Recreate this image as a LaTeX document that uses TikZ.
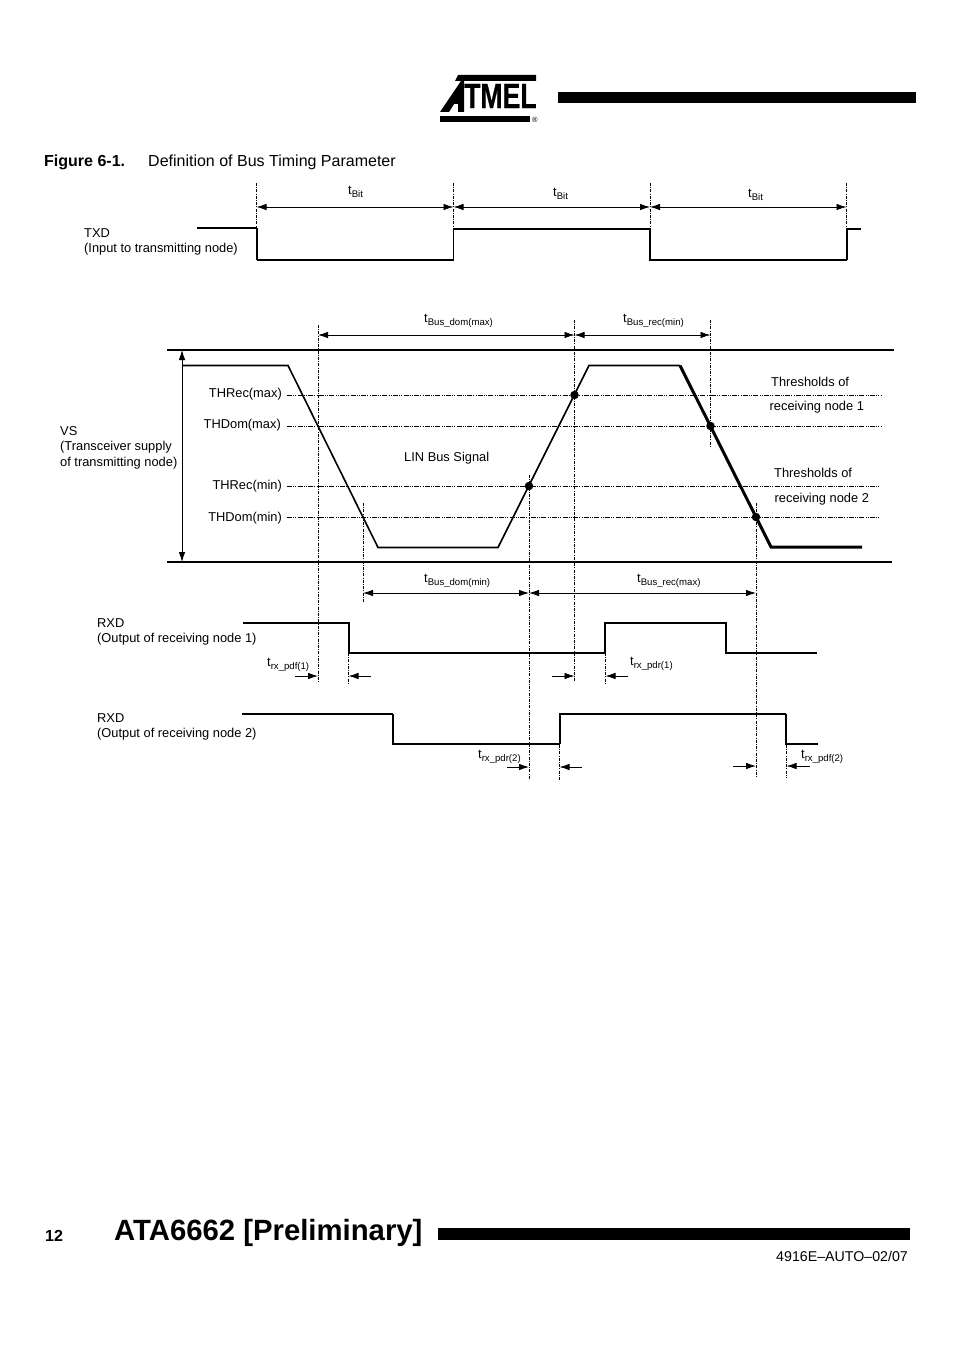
\documentclass[tikz,border=0pt]{standalone}
\usepackage{fontspec}
\setmainfont{Liberation Sans}
\usetikzlibrary{arrows.meta}
\newcommand{\tsub}[2]{#1\raisebox{-0.45ex}{\fontsize{9.6}{10}\selectfont #2}}
\tikzset{
  lbl/.style={anchor=west, inner sep=0pt, yshift=-1.5pt, font=\fontsize{12.85}{15.5}\selectfont, align=left},
  wave/.style={line width=1.6pt, line join=miter},
  thin wave/.style={line width=1.1pt, line join=miter},
  rail/.style={line width=1.8pt},
  guide/.style={line width=0.7pt, dash pattern=on 3pt off 1.2pt on 1pt off 1.2pt},
  thres/.style={line width=0.7pt, dash pattern=on 5pt off 1.2pt on 1pt off 1.2pt on 1pt off 1.2pt},
  dim/.style={line width=0.8pt, >={Latex[length=10pt,width=6.5pt]}},
  dot/.style={circle, fill=black, inner sep=0pt, minimum size=8.5pt}
}
\begin{document}
\begin{tikzpicture}
    [x=1pt, y=-1pt]

    \useasboundingbox [fill=white] (0,0) rectangle (954,1351);

    % logo and page bars
    \fill (458,75) -- (536,75) -- (536,81) -- (455,81) -- cycle;
    \fill (440,116) -- (530,116) -- (530,122) -- (440,122) -- cycle;
    \fill (440,112) -- (461,81) -- (464,81) -- (464,112) -- (458,112) -- (458,104) -- (454,104) -- (449,112) -- cycle;
    \node [inner sep=0pt, anchor=west, font=\fontsize{35}{35}\selectfont\bfseries] at (464,96) (logo) {\addfontfeature{FakeStretch=0.76,FakeBold=0.6}TMEL};
    \node [inner sep=0pt, font=\fontsize{7.5}{7.5}\selectfont] at (535,120) (reg) {®};
    \fill (558,92) rectangle (916,103);
    \fill (438,1228) rectangle (910,1240);

    \node [lbl, font=\fontsize{16}{18}\selectfont\bfseries] at (44,160.5) (figno) {Figure 6-1.};
    \node [lbl, font=\fontsize{16}{18}\selectfont] at (148,160.5) (figtitle) {Definition of Bus Timing Parameter};
    \node [lbl, font=\fontsize{16}{18}\selectfont\bfseries] at (45,1234) (pageno) {12};
    \node [lbl, font=\fontsize{29.3}{31}\selectfont\bfseries] at (114,1231) (doctitle) {ATA6662 [Preliminary]};
    \node [lbl, anchor=east, font=\fontsize{14.2}{16}\selectfont] at (908,1255) (docno) {4916E–AUTO–02/07};

    % TXD
    \node [lbl] at (84,240.5) (txd) {TXD\\(Input to transmitting node)};
    \draw [thin wave] (197,228) -- (257,228);
    \draw [line width=2pt] (257,228) -- (257,260);
    \draw [thin wave] (257,260) -- (453.5,260) -- (453.5,229);
    \draw [wave, line width=2pt] (453.5,229) -- (650,229);
    \draw [wave] (650,229) -- (650,260) -- (847,260);
    \draw [thin wave] (847,260) -- (847,229) -- (861,229);

    \coordinate (g1a) at (256.5,183);
    \coordinate (g1b) at (256.5,228);
    \coordinate (g2a) at (453.5,183);
    \coordinate (g2b) at (453.5,229);
    \coordinate (g3a) at (650,183);
    \coordinate (g3b) at (650,229);
    \coordinate (g4a) at (846.5,183);
    \coordinate (g4b) at (846.5,229);
    \draw [guide] (g1a) -- (g1b);
    \draw [guide] (g2a) -- (g2b);
    \draw [guide] (g3a) -- (g3b);
    \draw [guide] (g4a) -- (g4b);

    \coordinate (b1) at (256.5,207);
    \coordinate (b2) at (453.5,207);
    \coordinate (b3) at (650,207);
    \coordinate (b4) at (846.5,207);
    \draw [dim, <->] (b1) -- (b2);
    \draw [dim, <->] (b2) -- (b3);
    \draw [dim, <->] (b3) -- (b4);
    \node [lbl] at (348,190) (tbit1) {\tsub{t}{Bit}};
    \node [lbl] at (553,192) (tbit2) {\tsub{t}{Bit}};
    \node [lbl] at (748,193) (tbit3) {\tsub{t}{Bit}};

    % bus signal
    \coordinate (topl) at (167,350);
    \coordinate (topr) at (894,350);
    \coordinate (botl) at (167,562);
    \coordinate (botr) at (892,562);
    \draw [rail] (topl) -- (topr);
    \draw [rail] (botl) -- (botr);

    \coordinate (vsa) at (182,350);
    \coordinate (vsb) at (182,562);
    \draw [dim, <->] (vsa) -- (vsb);
    \node [lbl] at (60,446) (vs) {VS\\(Transceiver supply\\of transmitting node)};

    \coordinate (r1a) at (287,395);
    \coordinate (r1b) at (881,395);
    \coordinate (d1a) at (287,426);
    \coordinate (d1b) at (882,426);
    \coordinate (r2a) at (287,486);
    \coordinate (r2b) at (880,486);
    \coordinate (d2a) at (287,517);
    \coordinate (d2b) at (880,517);
    \draw [thres] (r1a) -- (r1b);
    \draw [thres] (d1a) -- (d1b);
    \draw [thres] (r2a) -- (r2b);
    \draw [thres] (d2a) -- (d2b);

    \draw [wave] (182,365.5) -- (288,365.5) -- (378,547.5) -- (498,547.5) -- (589,365.5) -- (680,365.5);
    \draw [wave, line width=3pt] (680,365.5) -- (771,547) -- (862,547);

    \node [lbl, anchor=east] at (282,393) (thrmax) {THRec(max)};
    \node [lbl, anchor=east] at (281,424) (thdmax) {THDom(max)};
    \node [lbl, anchor=east] at (282,485) (thrmin) {THRec(min)};
    \node [lbl, anchor=east] at (282,516.5) (thdmin) {THDom(min)};
    \node [lbl] at (404,456.5) (lin) {LIN Bus Signal};
    \node [lbl] at (771,380) (th1a) {Thresholds of};
    \node [lbl] at (769.5,405.5) (th1b) {receiving node 1};
    \node [lbl] at (774,471) (th2a) {Thresholds of};
    \node [lbl] at (774.5,497.5) (th2b) {receiving node 2};

    \node [dot] at (574.5,395) (p1) {};
    \node [dot] at (710.5,426) (p2) {};
    \node [dot] at (529,486) (p3) {};
    \node [dot] at (756,517) (p4) {};

    % time marks
    \coordinate (v1a) at (318,325);
    \coordinate (v1b) at (318,682);
    \coordinate (v2a) at (574.5,320);
    \coordinate (v2b) at (574.5,682);
    \coordinate (v3a) at (710.5,320);
    \coordinate (v3b) at (710.5,447);
    \coordinate (v4a) at (363,503);
    \coordinate (v4b) at (363,603);
    \coordinate (v5a) at (529,475);
    \coordinate (v5b) at (529,780);
    \coordinate (v6a) at (756,503);
    \coordinate (v6b) at (756,778);
    \coordinate (v7a) at (348.5,653);
    \coordinate (v7b) at (348.5,683);
    \coordinate (v8a) at (605.5,653);
    \coordinate (v8b) at (605.5,683);
    \coordinate (v9a) at (559.5,745);
    \coordinate (v9b) at (559.5,780);
    \coordinate (v10a) at (786.5,745);
    \coordinate (v10b) at (786.5,778);
    \draw [guide] (v1a) -- (v1b);
    \draw [guide] (v2a) -- (v2b);
    \draw [guide] (v3a) -- (v3b);
    \draw [guide] (v4a) -- (v4b);
    \draw [guide] (v5a) -- (v5b);
    \draw [guide] (v6a) -- (v6b);
    \draw [guide] (v7a) -- (v7b);
    \draw [guide] (v8a) -- (v8b);
    \draw [guide] (v9a) -- (v9b);
    \draw [guide] (v10a) -- (v10b);

    \coordinate (m1) at (318,335);
    \coordinate (m2) at (574.5,335);
    \coordinate (m3) at (710.5,335);
    \coordinate (m4) at (363,593);
    \coordinate (m5) at (529,593);
    \coordinate (m6) at (756,593);
    \draw [dim, <->] (m1) -- (m2);
    \draw [dim, <->] (m2) -- (m3);
    \draw [dim, <->] (m4) -- (m5);
    \draw [dim, <->] (m5) -- (m6);
    \node [lbl] at (424,319.5) (tdommax) {\tsub{t}{Bus\_dom(max)}};
    \node [lbl] at (623,319.5) (trecmin) {\tsub{t}{Bus\_rec(min)}};
    \node [lbl] at (424,579) (tdommin) {\tsub{t}{Bus\_dom(min)}};
    \node [lbl] at (637,579) (trecmax) {\tsub{t}{Bus\_rec(max)}};

    % RXD
    \node [lbl] at (97,630.5) (rxd1) {RXD\\(Output of receiving node 1)};
    \node [lbl] at (97,725.5) (rxd2) {RXD\\(Output of receiving node 2)};
    \draw [wave] (243,623) -- (349,623) -- (349,653) -- (605,653) -- (605,623) -- (726,623) -- (726,653) -- (817,653);
    \draw [wave] (242,714) -- (393,714);
    \draw [thin wave] (393,714) -- (393,744) -- (560,744);
    \draw [wave] (560,744) -- (560,714) -- (786,714);
    \draw [thin wave] (786,714) -- (786,744) -- (818,744);

    \coordinate (s1a) at (295,676);
    \coordinate (s1b) at (318,676);
    \coordinate (s2a) at (371,676);
    \coordinate (s2b) at (348.5,676);
    \coordinate (s3a) at (552,676);
    \coordinate (s3b) at (574.5,676);
    \coordinate (s4a) at (628,676);
    \coordinate (s4b) at (605.5,676);
    \coordinate (s5a) at (507,767);
    \coordinate (s5b) at (529,767);
    \coordinate (s6a) at (582,767);
    \coordinate (s6b) at (559.5,767);
    \coordinate (s7a) at (733,766);
    \coordinate (s7b) at (756,766);
    \coordinate (s8a) at (810,766);
    \coordinate (s8b) at (786.5,766);
    \draw [dim, ->] (s1a) -- (s1b);
    \draw [dim, ->] (s2a) -- (s2b);
    \draw [dim, ->] (s3a) -- (s3b);
    \draw [dim, ->] (s4a) -- (s4b);
    \draw [dim, ->] (s5a) -- (s5b);
    \draw [dim, ->] (s6a) -- (s6b);
    \draw [dim, ->] (s7a) -- (s7b);
    \draw [dim, ->] (s8a) -- (s8b);

    \node [lbl] at (267,663) (tpdf1) {\tsub{t}{rx\_pdf(1)}};
    \node [lbl] at (630,662) (tpdr1) {\tsub{t}{rx\_pdr(1)}};
    \node [lbl] at (478,755) (tpdr2) {\tsub{t}{rx\_pdr(2)}};
    \node [lbl] at (801,755) (tpdf2) {\tsub{t}{rx\_pdf(2)}};

  \end{tikzpicture}
\end{document}
